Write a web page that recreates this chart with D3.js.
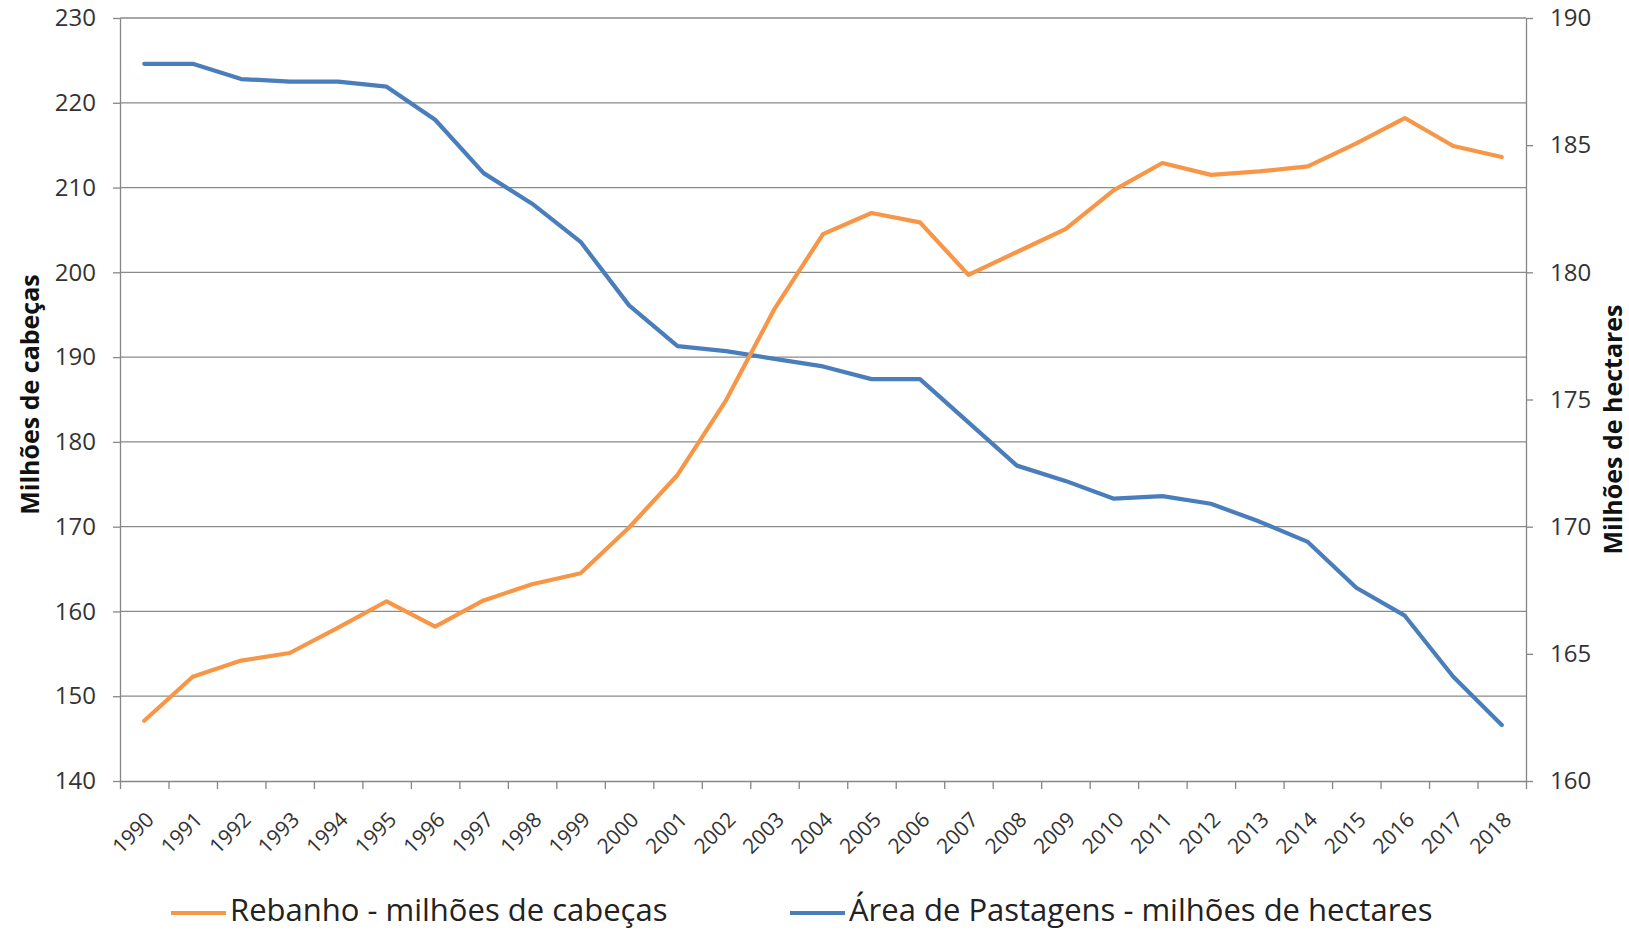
<!DOCTYPE html>
<html>
<head>
<meta charset="utf-8">
<script src="https://cdn.jsdelivr.net/npm/d3@7"></script>
<style>
    body { margin: 0; background: #fff; }
    text { font-family: 'Open Sans', 'DejaVu Sans', sans-serif; fill: #333; }
    .axis path, .axis line { stroke: #868686; stroke-width: 1.3px; }
    .grid line { stroke: #8a8a8a; stroke-width: 1.3px; }
</style>
</head>
<body>
<svg id="chart"></svg>
<script>
    const width = 1629;
    const height = 930;

    // data
    const years = ["1990", "1991", "1992", "1993", "1994", "1995", "1996", "1997", "1998", "1999",
        "2000", "2001", "2002", "2003", "2004", "2005", "2006", "2007", "2008", "2009",
        "2010", "2011", "2012", "2013", "2014", "2015", "2016", "2017", "2018"];
    const rebanho = [147.1, 152.3, 154.2, 155.1, 158.1, 161.2, 158.2, 161.3, 163.2, 164.5,
        169.9, 176.1, 184.9, 195.7, 204.5, 207.0, 205.9, 199.7, 202.4, 205.1,
        209.7, 212.9, 211.5, 211.9, 212.5, 215.2, 218.2, 214.9, 213.6];
    const pastagens = [188.2, 188.2, 187.6, 187.5, 187.5, 187.3, 186.0, 183.9, 182.7, 181.2,
        178.7, 177.1, 176.9, 176.6, 176.3, 175.8, 175.8, 174.1, 172.4, 171.8,
        171.1, 171.2, 170.9, 170.2, 169.4, 167.6, 166.5, 164.1, 162.2];
    const leftTicks = [140, 150, 160, 170, 180, 190, 200, 210, 220, 230];
    const rightTicks = [160, 165, 170, 175, 180, 185, 190];

    const orange = "#F79646";
    const blue = "#4A7EBB";

    const plot = { left: 120, right: 1526, top: 18, bottom: 781 };

    const svg = d3.select("#chart").attr("width", width).attr("height", height);

    const x = d3.scaleLinear().domain([0, years.length]).range([plot.left, plot.right]);
    const yL = d3.scaleLinear().domain([140, 230]).range([plot.bottom, plot.top]);
    const yR = d3.scaleLinear().domain([160, 190]).range([plot.bottom, plot.top]);

    // gridlines
    svg.append("g").attr("class", "grid")
        .selectAll("line")
        .data(leftTicks.slice(1))
        .enter().append("line")
        .attr("x1", plot.left).attr("x2", plot.right)
        .attr("y1", d => yL(d)).attr("y2", d => yL(d));

    // left axis
    svg.append("g").attr("class", "axis")
        .attr("transform", `translate(${plot.left},0)`)
        .call(d3.axisLeft(yL).tickValues(leftTicks).tickSizeInner(7).tickSizeOuter(0).tickPadding(17))
        .selectAll("text").style("font-size", "24px");

    // right axis
    svg.append("g").attr("class", "axis")
        .attr("transform", `translate(${plot.right},0)`)
        .call(d3.axisRight(yR).tickValues(rightTicks).tickSizeInner(7).tickSizeOuter(0).tickPadding(17))
        .selectAll("text").style("font-size", "24px");

    // bottom axis: ticks between categories
    svg.append("g").attr("class", "axis")
        .attr("transform", `translate(0,${plot.bottom})`)
        .call(d3.axisBottom(x).tickValues(d3.range(years.length + 1)).tickFormat("").tickSizeInner(8).tickSizeOuter(0));

    svg.append("g")
        .selectAll("text")
        .data(years)
        .enter().append("text")
        .attr("transform", (d, i) => `translate(${x(i + 0.5) + 11},${plot.bottom + 40}) rotate(-45)`)
        .attr("text-anchor", "end")
        .style("font-size", "21px")
        .text(d => d);

    // axis titles
    svg.append("text")
        .attr("transform", `translate(39,${(plot.top + plot.bottom) / 2 - 5}) rotate(-90)`)
        .attr("text-anchor", "middle")
        .style("font-size", "25px").style("font-weight", "bold").style("fill", "#111")
        .text("Milhões de cabeças");

    svg.append("text")
        .attr("transform", `translate(1622,${(plot.top + plot.bottom) / 2 + 30}) rotate(-90)`)
        .attr("text-anchor", "middle")
        .style("font-size", "25px").style("font-weight", "bold").style("fill", "#111")
        .text("Milhões de hectares");

    // lines
    const lineL = d3.line().x((d, i) => x(i + 0.5)).y(d => yL(d));
    const lineR = d3.line().x((d, i) => x(i + 0.5)).y(d => yR(d));

    svg.append("path").datum(pastagens)
        .attr("d", lineR)
        .attr("fill", "none").attr("stroke", blue).attr("stroke-width", 4.2)
        .attr("stroke-linejoin", "round").attr("stroke-linecap", "round");

    svg.append("path").datum(rebanho)
        .attr("d", lineL)
        .attr("fill", "none").attr("stroke", orange).attr("stroke-width", 4.2)
        .attr("stroke-linejoin", "round").attr("stroke-linecap", "round");

    // legend
    const legend = [
        { label: "Rebanho - milhões de cabeças", color: orange, x0: 171 },
        { label: "Área de Pastagens - milhões de hectares", color: blue, x0: 790 }
    ];
    const lg = svg.append("g").selectAll("g").data(legend).enter().append("g");
    lg.append("line")
        .attr("x1", d => d.x0).attr("x2", d => d.x0 + 55)
        .attr("y1", 913).attr("y2", 913)
        .attr("stroke", d => d.color).attr("stroke-width", 4.2);
    lg.append("text")
        .attr("x", d => d.x0 + 59).attr("y", 921)
        .style("font-size", "31px").style("fill", "#222")
        .text(d => d.label);
</script>
</body>
</html>
